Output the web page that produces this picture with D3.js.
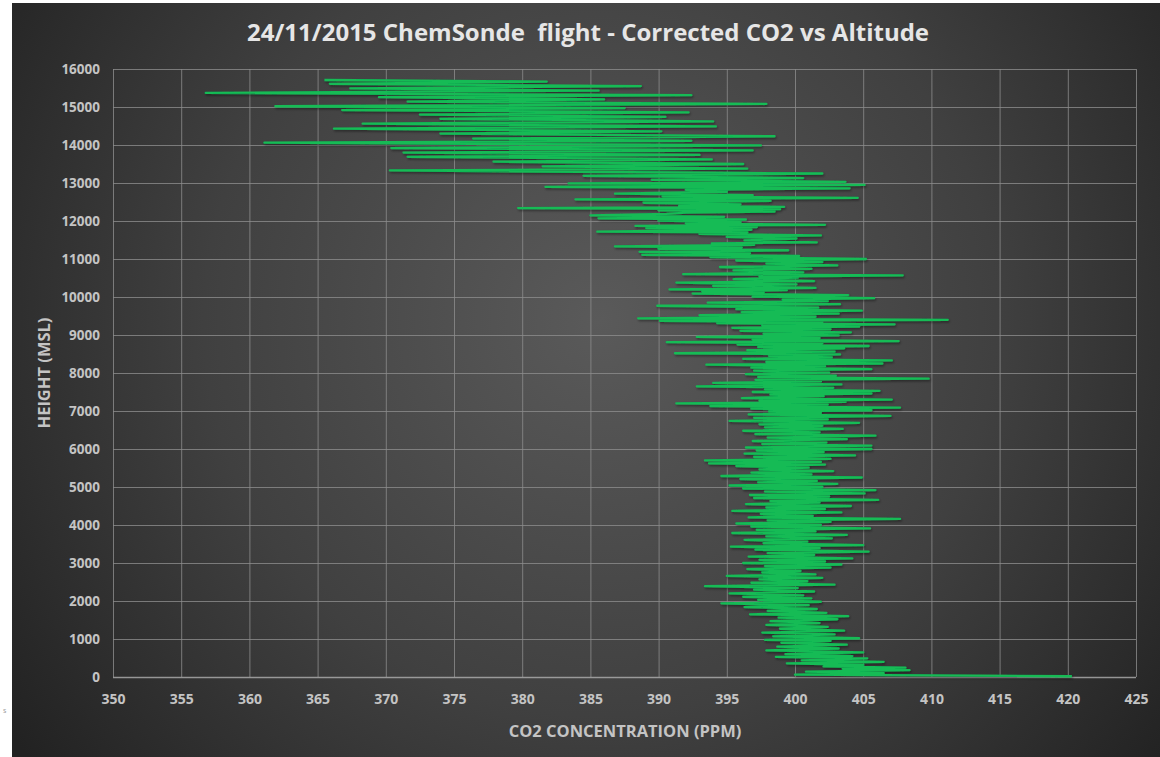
<!DOCTYPE html>
<html>
<head>
<meta charset="utf-8">
<script src="https://cdn.jsdelivr.net/npm/d3@7"></script>
<style>
  body { margin: 0; background: #fff; }
  svg text { font-family: "Open Sans", "Noto Sans", sans-serif; font-weight: bold; }
</style>
</head>
<body>
<svg id="chart" width="1160" height="757"></svg>
<script>
var altitude = [
  20, 60, 100, 140, 180, 215, 245, 280, 320, 360, 400, 440, 491, 530,
  550, 600, 650, 700, 750, 800, 850, 900, 950, 975, 1020, 1070, 1120, 1170, 1220, 1270, 1320, 1370, 1420, 1470, 1520, 1560, 1600, 1650, 1690, 1740, 1790, 1840, 1890, 1940, 1980,
  2030, 2070, 2110, 2150, 2200, 2250, 2300, 2340, 2390, 2430, 2480, 2520, 2570, 2610, 2660, 2700, 2750, 2790, 2840, 2880, 2920, 2960,
  3000, 3040, 3080, 3120, 3170, 3210, 3260, 3300, 3350, 3390, 3430, 3470, 3520, 3560, 3610, 3650, 3700, 3740, 3790, 3830, 3870, 3910, 3960, 4000,
  4040, 4080, 4120, 4160, 4200, 4240, 4290, 4330, 4370, 4420, 4460, 4500, 4550, 4590, 4630, 4660, 4710, 4750, 4790, 4830, 4880, 4920, 4960, 5000,
  5040, 5080, 5120, 5160, 5210, 5250, 5290, 5330, 5380, 5420, 5460, 5510, 5550, 5590, 5620, 5660, 5700, 5740, 5790, 5830, 5880, 5920, 5960, 6000,
  6040, 6090, 6130, 6170, 6210, 6260, 6300, 6350, 6390, 6440, 6480, 6530, 6570, 6610, 6650, 6690, 6740, 6780, 6820, 6870, 6910, 6950, 6990, 7020,
  7060, 7090, 7130, 7170, 7200, 7240, 7270, 7300, 7340, 7390, 7430, 7460, 7500, 7530, 7570, 7610, 7650, 7700, 7740, 7780, 7820, 7850, 7890, 7930, 7970, 8010,
  8060, 8100, 8140, 8180, 8220, 8250, 8290, 8330, 8370, 8410, 8450, 8490, 8520, 8560, 8600, 8650, 8680, 8710, 8750, 8780, 8810, 8840, 8880, 8920, 8950, 8990,
  9030, 9070, 9110, 9150, 9190, 9220, 9250, 9280, 9310, 9340, 9370, 9400, 9440, 9480, 9520, 9560, 9600, 9640, 9680, 9720, 9770, 9810, 9850, 9890, 9930, 9970,
  10010, 10050, 10090, 10120, 10150, 10180, 10200, 10240, 10290, 10330, 10380, 10420, 10470, 10510, 10540, 10570, 10600, 10650, 10700, 10740, 10790, 10830, 10880, 10920, 10960, 11000,
  11050, 11080, 11110, 11150, 11190, 11230, 11270, 11300, 11330, 11370, 11410, 11440, 11490, 11540, 11580, 11620, 11660, 11700, 11720, 11770, 11810, 11840, 11870, 11900, 11940, 11970, 12010, 12040,
  12070, 12110, 12150, 12190, 12220, 12250, 12280, 12310, 12340, 12370, 12400, 12440, 12480, 12530, 12570, 12610, 12650, 12680, 12720, 12770, 12820, 12860, 12900, 12950, 12990, 13030,
  13080, 13130, 13190, 13250, 13330, 13380, 13440, 13500, 13560, 13620, 13690, 13740, 13800, 13860, 13920,
  13990, 14060, 14110, 14170, 14230, 14300, 14360, 14430, 14490, 14560, 14620, 14690, 14740, 14800, 14860,
  14920, 14970, 15020, 15080, 15140, 15200, 15260, 15310, 15370, 15430, 15490, 15550, 15610, 15670, 15710
];
var co2 = [
  420.3, 400.0, 406.5, 400.8, 408.4, 403.5, 408.1, 402.1, 405.0, 399.4, 406.5, 400.5, 405.3, 398.6,
  404.2, 399.3, 405.0, 397.9, 403.2, 398.7, 403.8, 399.0, 402.6, 397.8, 404.7, 398.4, 402.9, 397.6, 403.6, 398.9, 402.4, 397.9, 401.8, 398.2, 403.1, 398.8, 403.9, 396.7, 402.3, 398.0, 401.6, 396.3, 401.0, 394.6, 401.9,
  397.3, 401.2, 396.2, 400.6, 395.2, 401.4, 397.0, 400.2, 393.4, 402.9, 396.8, 400.9, 397.4, 402.0, 395.0, 401.5, 397.6, 400.4, 396.5, 402.6, 397.8, 403.4,
  396.2, 402.2, 397.4, 404.2, 396.6, 401.4, 398.0, 405.4, 397.1, 401.8, 395.3, 405.0, 397.7, 400.9, 396.3, 402.7, 397.9, 403.8, 395.4, 401.5, 397.2, 405.5, 396.8, 401.9,
  395.7, 402.6, 398.0, 407.7, 396.6, 401.3, 397.5, 403.4, 395.4, 402.2, 397.9, 404.1, 396.4, 401.8, 398.2, 406.1, 397.0, 402.5, 396.7, 405.1, 397.8, 405.9, 396.2, 402.0,
  395.2, 403.1, 397.3, 401.6, 396.0, 404.9, 394.6, 401.2, 396.8, 402.8, 397.4, 401.0, 395.7, 402.2, 393.7, 401.9, 393.4, 402.6, 397.0, 404.4, 396.3, 402.1, 397.2, 405.6,
  396.4, 405.6, 397.6, 402.3, 396.9, 403.8, 398.0, 405.9, 397.1, 401.8, 396.2, 403.5, 397.8, 402.0, 397.4, 404.7, 395.2, 402.4, 397.0, 407.0, 396.6, 401.9, 398.1, 405.6,
  396.8, 407.7, 393.8, 402.4, 391.3, 403.7, 397.4, 407.1, 396.1, 402.1, 398.2, 405.6, 396.9, 406.2, 397.8, 402.8, 392.8, 403.4, 394.0, 401.9, 397.1, 409.8, 397.3, 403.0, 396.4, 402.5,
  397.0, 405.6, 396.8, 402.2, 393.5, 406.4, 397.9, 407.1, 396.2, 402.7, 398.1, 403.3, 391.2, 402.9, 396.5, 403.6, 397.3, 405.4, 395.8, 402.0, 390.6, 407.6, 396.9, 401.8, 392.8, 403.2,
  397.7, 404.1, 396.0, 402.6, 395.4, 404.7, 397.6, 407.3, 394.3, 402.0, 390.1, 411.2, 388.5, 401.5, 393.0, 403.2, 396.1, 404.9, 395.7, 401.7, 389.9, 403.3, 393.6, 402.4, 399.1, 405.8,
  396.9, 403.9, 392.5, 397.7, 393.2, 399.4, 390.8, 401.5, 394.0, 400.1, 391.3, 401.4, 395.5, 400.2, 397.4, 407.9, 391.8, 400.6, 395.5, 401.2, 394.5, 403.1, 397.9, 402.0, 395.7, 405.2,
  393.8, 400.3, 388.8, 396.7, 388.6, 399.5, 390.0, 396.1, 386.8, 397.0, 393.9, 401.6, 396.3, 400.1, 395.0, 401.9, 393.0, 396.5, 385.5, 396.8, 389.1, 397.2, 388.3, 402.2, 392.0, 396.0, 390.0, 396.4,
  385.6, 394.8, 385.0, 390.6, 392.0, 398.5, 390.0, 398.9, 379.7, 399.2, 391.5, 396.0, 388.9, 398.2, 383.9, 404.6, 390.3, 396.9, 386.8, 395.0, 392.0, 404.0, 381.7, 405.1, 383.4, 403.7,
  389.5, 400.6, 384.5, 402.0, 370.3, 396.5, 381.5, 396.2, 377.9, 393.9, 371.6, 393.0, 371.3, 396.9, 370.4,
  397.5, 361.1, 392.4, 376.4, 398.5, 374.0, 390.2, 366.2, 394.2, 368.3, 394.0, 374.0, 390.5, 372.5, 392.2,
  366.8, 387.5, 361.9, 397.9, 371.6, 386.0, 369.5, 392.4, 356.8, 385.6, 367.4, 388.7, 365.9, 381.8, 365.5
];
var xTicks = [350, 355, 360, 365, 370, 375, 380, 385, 390, 395, 400, 405, 410, 415, 420, 425];
var yTicks = [0, 1000, 2000, 3000, 4000, 5000, 6000, 7000, 8000, 9000, 10000, 11000, 12000, 13000, 14000, 15000, 16000];
var titleText = '24/11/2015 ChemSonde  flight - Corrected CO2 vs Altitude';
var xTitle = 'CO2 CONCENTRATION (PPM)';
var yTitle = 'HEIGHT (MSL)';

var svg = d3.select('#chart');
var width = +svg.attr('width');
var height = +svg.attr('height');
var margins = { top: 69, left: 113, right: 24, bottom: 80 };
var plotW = width - margins.left - margins.right;
var plotH = height - margins.top - margins.bottom;

var defs = svg.append('defs');
var grad = defs.append('radialGradient')
  .attr('id', 'bg')
  .attr('gradientUnits', 'userSpaceOnUse')
  .attr('cx', 600).attr('cy', 320).attr('r', 720);
grad.append('stop').attr('offset', '0%').attr('stop-color', '#5a5a5a');
grad.append('stop').attr('offset', '55%').attr('stop-color', '#404040');
grad.append('stop').attr('offset', '100%').attr('stop-color', '#222');

var shadow = defs.append('filter')
  .attr('id', 'shadow')
  .attr('x', '-5%').attr('y', '-5%').attr('width', '110%').attr('height', '110%');
shadow.append('feDropShadow')
  .attr('dx', 1).attr('dy', 1.5)
  .attr('stdDeviation', 0.9)
  .attr('flood-color', '#000')
  .attr('flood-opacity', 0.45);

// chart area (white strip on the left / top like the cropped original)
svg.append('rect')
  .attr('x', 12).attr('y', 3)
  .attr('width', width - 12).attr('height', height - 3)
  .attr('fill', 'url(#bg)');

svg.append('text')
  .attr('x', 3).attr('y', 713)
  .attr('font-size', 7)
  .attr('fill', '#999')
  .style('font-weight', 'normal')
  .text('s');

var x = d3.scaleLinear().domain([350, 425]).range([0, plotW]);
var y = d3.scaleLinear().domain([0, 16000]).range([plotH, 0]);

var plot = svg.append('g')
  .attr('transform', 'translate(' + margins.left + ',' + margins.top + ')');

// grid
plot.append('g')
  .attr('class', 'grid x')
  .call(d3.axisBottom(x).tickValues(xTicks).tickSize(plotH).tickFormat(''))
  .call(function (g) { g.select('.domain').remove(); })
  .selectAll('line')
  .attr('stroke', '#8c8c8c')
  .attr('stroke-opacity', 0.8);

plot.append('g')
  .attr('class', 'grid y')
  .call(d3.axisLeft(y).tickValues(yTicks).tickSize(-plotW).tickFormat(''))
  .call(function (g) { g.select('.domain').remove(); })
  .selectAll('line')
  .attr('stroke', function (d) { return d === 0 ? '#b0b0b0' : '#8c8c8c'; })
  .attr('stroke-width', function (d) { return d === 0 ? 1.5 : 1; })
  .attr('stroke-opacity', 0.8);

// tick labels
var xAxis = plot.append('g')
  .attr('class', 'axis x')
  .attr('transform', 'translate(0,' + (plotH + 12) + ')')
  .call(d3.axisBottom(x).tickValues(xTicks).tickSize(0).tickPadding(5));
xAxis.select('.domain').remove();
xAxis.selectAll('text')
  .attr('font-size', 14)
  .attr('fill', '#c4c4c4')
  .style('font-family', '"Open Sans", sans-serif');

var yAxis = plot.append('g')
  .attr('class', 'axis y')
  .call(d3.axisLeft(y).tickValues(yTicks).tickSize(0).tickPadding(13).tickFormat(d3.format('d')));
yAxis.select('.domain').remove();
yAxis.selectAll('text')
  .attr('font-size', 13.5)
  .attr('fill', '#c4c4c4')
  .style('font-family', '"Open Sans", sans-serif');

// the sounding
var points = altitude.map(function (a, i) {
  return { alt: a, co2: co2[i] };
});

var line = d3.line()
  .x(function (d) { return x(d.co2); })
  .y(function (d) { return y(d.alt); });

plot.append('path')
  .datum(points)
  .attr('class', 'trace')
  .attr('d', line)
  .attr('fill', 'none')
  .attr('stroke', '#12bb55')
  .attr('stroke-width', 2.3)
  .attr('stroke-linejoin', 'round')
  .attr('filter', 'url(#shadow)');

// titles
svg.append('text')
  .attr('x', 588).attr('y', 41)
  .attr('text-anchor', 'middle')
  .attr('font-size', 24)
  .attr('fill', '#e6e6e6')
  .style('white-space', 'pre')
  .text(titleText);

svg.append('text')
  .attr('x', 625).attr('y', 737)
  .attr('text-anchor', 'middle')
  .attr('font-size', 16.5)
  .attr('fill', '#c4c4c4')
  .text(xTitle);

svg.append('text')
  .attr('transform', 'translate(50,' + 373 + ') rotate(-90)')
  .attr('text-anchor', 'middle')
  .attr('font-size', 16.5)
  .attr('fill', '#c4c4c4')
  .text(yTitle);
</script>
</body>
</html>
